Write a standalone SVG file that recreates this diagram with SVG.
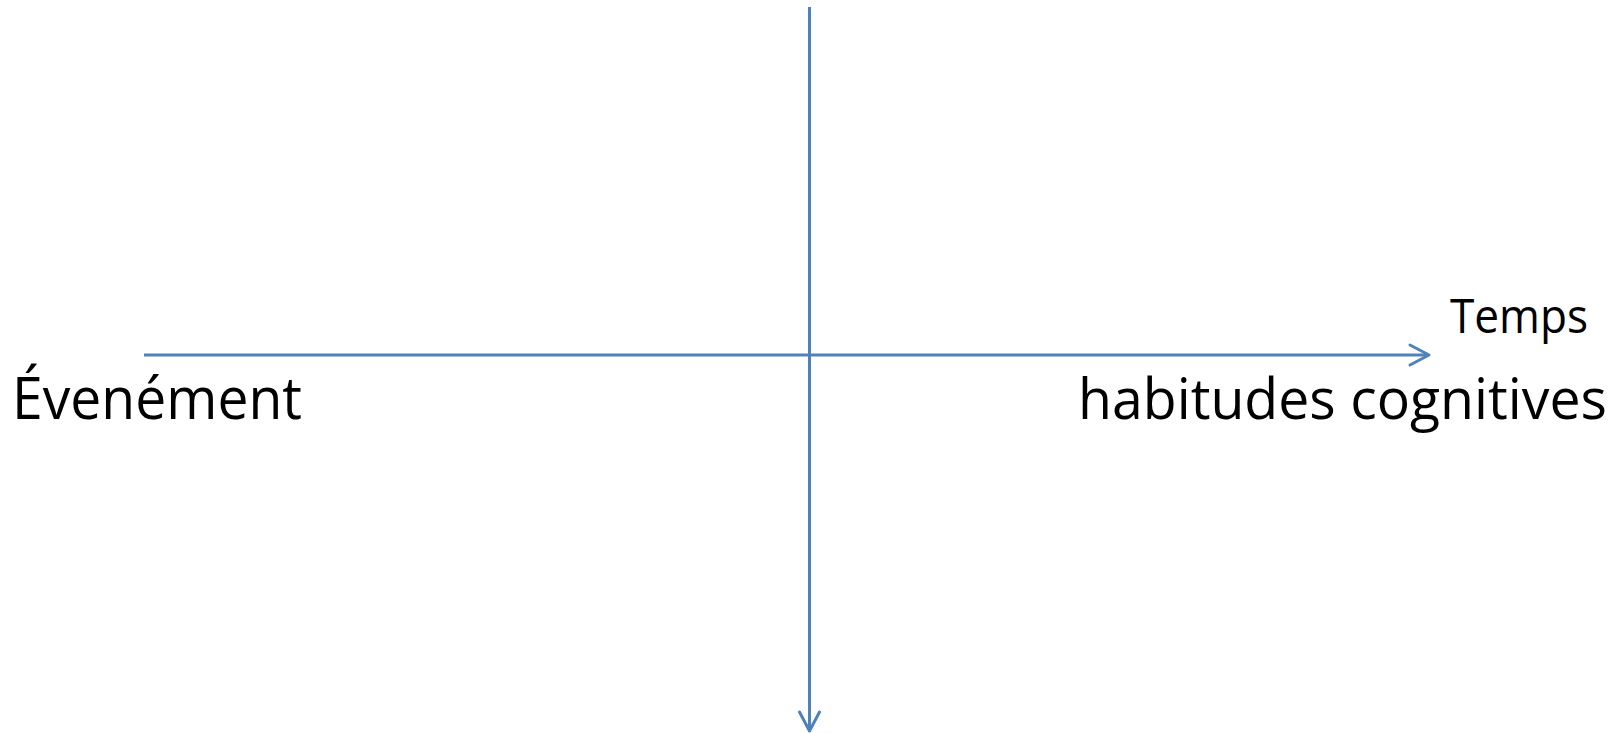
<svg xmlns="http://www.w3.org/2000/svg" width="1623" height="733" viewBox="0 0 1623 733">
<style>
.ax{stroke:#4f81bd;stroke-width:3;fill:none}
.ah{stroke:#4f81bd;stroke-width:3;fill:none;stroke-linecap:round;stroke-linejoin:round}
.t{font-family:"Open Sans","Liberation Sans",sans-serif;fill:#000}
</style>
<rect width="1623" height="733" fill="#fff"/>
<g id="connectors">
<line class="ax" x1="144" y1="355" x2="1428" y2="355"/>
<polyline class="ah" points="1410,345 1429,355 1410,365"/>
<line class="ax" x1="809.5" y1="7" x2="809.5" y2="730"/>
<polyline class="ah" points="799.5,712 809.5,731 819.5,712"/>
</g>
<g id="temps"><text class="t" x="1450" y="333" font-size="48" textLength="138" lengthAdjust="spacingAndGlyphs">Temps</text></g>
<g id="evenement"><text class="t" x="12" y="419" font-size="58" textLength="290" lengthAdjust="spacingAndGlyphs">Évenément</text></g>
<g id="habitudes"><text class="t" x="1078" y="419" font-size="57" textLength="529" lengthAdjust="spacingAndGlyphs">habitudes cognitives</text></g>
</svg>
